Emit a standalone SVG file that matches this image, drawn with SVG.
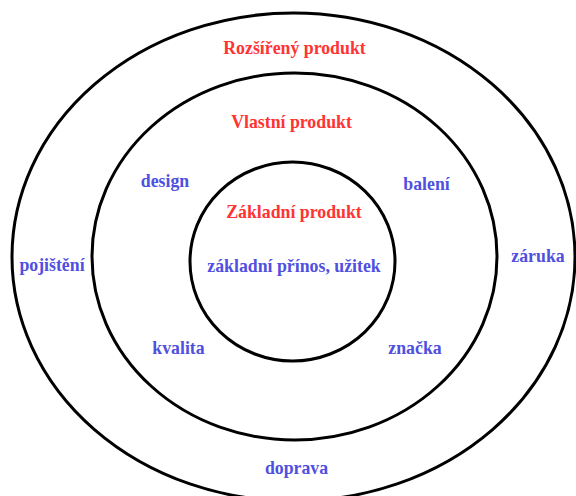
<svg xmlns="http://www.w3.org/2000/svg" width="576" height="496" viewBox="0 0 576 496">
<style>
.ring{fill:none;stroke:#000;stroke-width:3}
text{font-family:"Liberation Serif","Times New Roman",serif;font-weight:bold;font-size:17.8px;text-anchor:middle}
.t{fill:#ff3333}
.l{fill:#5050e0}
</style>
<rect width="576" height="496" fill="#fff"/>
<g id="outer">
<ellipse class="ring" cx="293.5" cy="257" rx="281.5" ry="244"/>
<text class="t" x="294.5" y="54">Rozšířený produkt</text>
<text class="l" x="52" y="271">pojištění</text>
<text class="l" x="538" y="262">záruka</text>
<text class="l" x="296.5" y="474">doprava</text>
</g>
<g id="middle">
<ellipse class="ring" cx="294.5" cy="256.5" rx="202.5" ry="183.5"/>
<text class="t" x="291.5" y="128">Vlastní produkt</text>
<text class="l" x="165" y="187">design</text>
<text class="l" x="426.5" y="190">balení</text>
<text class="l" x="178.5" y="354">kvalita</text>
<text class="l" x="415" y="354">značka</text>
</g>
<g id="inner">
<ellipse class="ring" cx="292.5" cy="261.5" rx="102.5" ry="99.5"/>
<text class="t" x="294" y="218">Základní produkt</text>
<text class="l" x="294" y="272">základní přínos, užitek</text>
</g>
<g id="connectors"/>
</svg>
